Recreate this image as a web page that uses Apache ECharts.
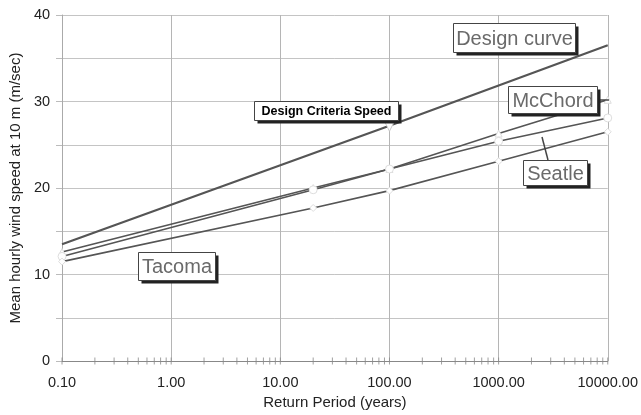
<!DOCTYPE html>
<html><head><meta charset="utf-8">
<script src="https://cdn.jsdelivr.net/npm/echarts@6/dist/echarts.min.js"></script>
<style>html,body{margin:0;padding:0;background:#fff}#c{width:641px;height:415px}</style>
</head><body><div id="c"></div>
<script>
const periods = [0.1, 20, 100, 1000, 10000];
const designPeriods = [0.1, 100, 10000];
const designCurve = [13.5, 27.2, 36.5];
const designMarked = [false, true, false];
const mcChord = [12.6, 20.0, 22.2, 26.3, 30.2];
const seatle = [12.1, 19.8, 22.2, 25.4, 28.1];
const tacoma = [11.5, 17.7, 19.7, 23.1, 26.5];
const xTicks = [0.1, 1, 10, 100, 1000, 10000];
const yMin = 0, yMax = 40, yStep = 5;

const minorTicks = [];
for (let d = -1; d < 4; d++) for (let m = 1; m <= 9; m++) minorTicks.push([m * Math.pow(10, d), 0]);
minorTicks.push([10000, 0]);

const pairs = (xs, ys) => xs.map((x, i) => [x, ys[i]]);
const lineCol = '#555';
const font = 'Liberation Sans, Arial, sans-serif';

function box(x, y, w, h, text, opts) {
  opts = opts || {};
  return {
    type: 'group', left: x, top: y, z: 100,
    children: [
      {type: 'rect', z: 100, shape: {x: 3, y: 3, width: w, height: h}, style: {fill: '#222'}},
      {type: 'rect', z: 101, shape: {x: 0, y: 0, width: w, height: h}, style: {fill: '#fff', stroke: '#444', lineWidth: 1}},
      {type: 'text', z: 102, x: w / 2, y: h / 2 + 1, style: {text: text, fill: opts.color || '#6a6a6a', font: (opts.weight || 'normal') + ' ' + (opts.size || 20) + 'px ' + font, align: 'center', verticalAlign: 'middle'}}
    ]
  };
}

const chart = echarts.init(document.getElementById('c'));
chart.setOption({
  animation: false,
  grid: {left: 62, right: 29, top: 15, bottom: 53},
  xAxis: {
    type: 'log', logBase: 10, min: 0.1, max: 10000,
    name: 'Return Period (years)', nameLocation: 'middle', nameGap: 32,
    nameTextStyle: {fontSize: 15, color: '#222', fontFamily: font},
    axisLine: {show: true, lineStyle: {color: '#888'}},
    axisTick: {show: false},
    axisLabel: {fontSize: 14.5, color: '#222', fontFamily: font, margin: 14, formatter: v => Number(v).toFixed(2)},
    splitLine: {show: true, lineStyle: {color: '#b5b5b5', width: 1}}
  },
  yAxis: {
    type: 'value', min: yMin, max: yMax, interval: yStep,
    name: 'Mean hourly wind speed at 10 m (m/sec)', nameLocation: 'middle', nameGap: 32,
    nameTextStyle: {fontSize: 15, color: '#222', fontFamily: font},
    axisLine: {show: true, lineStyle: {color: '#aaa'}},
    axisTick: {show: true, length: 6, lineStyle: {color: '#bbb'}},
    axisLabel: {fontSize: 14.5, color: '#222', fontFamily: font, margin: 12, formatter: v => (v % 10 === 0 ? String(v) : '')},
    splitLine: {show: true, lineStyle: {color: '#c4c4c4', width: 1}}
  },
  series: [
    {type: 'line', name: 'Design curve', data: designPeriods.map((x, i) => ({value: [x, designCurve[i]], symbolSize: designMarked[i] ? 11 : 0})), lineStyle: {color: lineCol, width: 2.2}, itemStyle: {color: '#fff', borderColor: '#ccc', borderWidth: 1}, symbol: 'triangle', symbolRotate: 180, showSymbol: true, z: 5},
    {type: 'line', name: 'McChord', data: pairs(periods, mcChord), lineStyle: {color: lineCol, width: 1.6}, itemStyle: {color: '#fff', borderColor: '#ddd', borderWidth: 1}, symbol: 'triangle', symbolSize: 7, z: 5},
    {type: 'line', name: 'Seatle', data: pairs(periods, seatle), lineStyle: {color: lineCol, width: 1.6}, itemStyle: {color: '#fff', borderColor: '#ddd', borderWidth: 1}, symbol: 'circle', symbolSize: 8, z: 5},
    {type: 'line', name: 'Tacoma', data: pairs(periods, tacoma), lineStyle: {color: lineCol, width: 1.6}, itemStyle: {color: '#fff', borderColor: '#ddd', borderWidth: 1}, symbol: 'diamond', symbolSize: 7, z: 5},
    {type: 'scatter', name: 'ticks', data: minorTicks, symbol: 'rect', symbolSize: [1, 7], itemStyle: {color: '#888'}, silent: true, z: 6, clip: false}
  ],
  graphic: [
    box(453, 23, 122, 29, 'Design curve'),
    box(508, 86, 89, 27, 'McChord'),
    {type: 'line', z: 90, shape: {x1: 542, y1: 137, x2: 548, y2: 160}, style: {stroke: '#444', lineWidth: 1.5}},
    {type: 'line', z: 90, shape: {x1: 597, y1: 100, x2: 609, y2: 100}, style: {stroke: '#444', lineWidth: 1.5}},
    box(523, 160, 64, 25, 'Seatle'),
    box(138, 252, 77, 28, 'Tacoma'),
    box(254, 101, 144, 19, 'Design Criteria Speed', {color: '#000', weight: 'bold', size: 12.5})
  ]
});
</script></body></html>
